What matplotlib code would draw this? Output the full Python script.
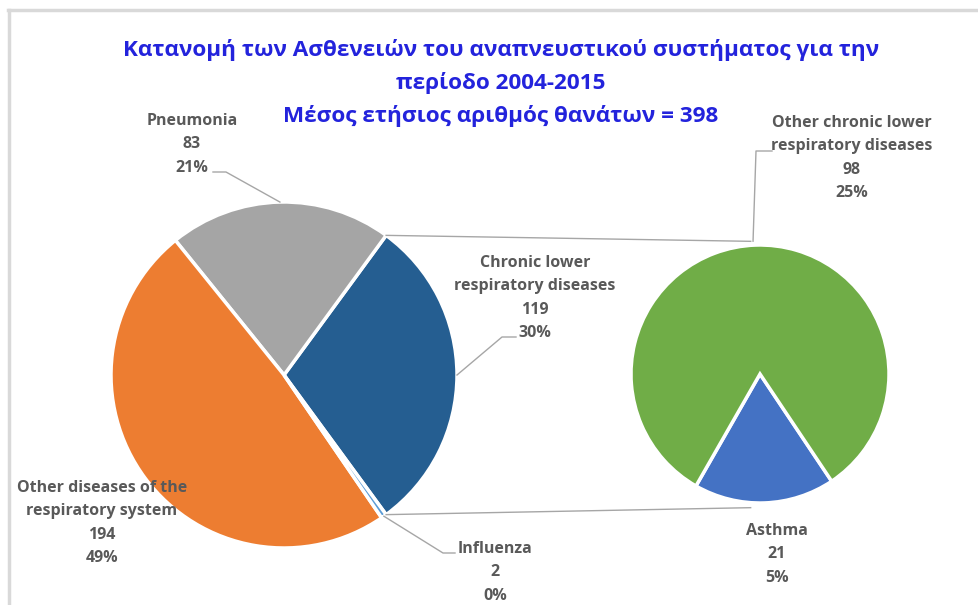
import numpy as np
import matplotlib
matplotlib.use('Agg')
import matplotlib.pyplot as plt
from matplotlib import font_manager

# ---------------- data ----------------
main_labels = ['Chronic lower\nrespiratory diseases', 'Pneumonia',
               'Other diseases of the\nrespiratory system', 'Influenza']
main_values = [119, 83, 194, 2]
main_pcts = ['30%', '21%', '49%', '0%']
main_colors = ['#255E91', '#A5A5A5', '#ED7D31', '#5B9BD5']

sub_labels = ['Asthma', 'Other chronic lower\nrespiratory diseases']
sub_values = [21, 98]
sub_pcts = ['5%', '25%']
sub_colors = ['#4472C4', '#70AD47']

title_lines = ['Κατανομή των Ασθενειών του αναπνευστικού συστήματος για την',
               'περίοδο 2004-2015',
               'Μέσος ετήσιος αριθμός θανάτων = 398']

# ---------------- fonts ----------------
def pick(fams):
    for f in fams:
        try:
            font_manager.findfont(f, fallback_to_default=False)
            return f
        except Exception:
            pass
    return 'DejaVu Sans'

FONT = pick(['Liberation Sans Narrow', 'Open Sans', 'DejaVu Sans'])
plt.rcParams['font.family'] = [FONT, 'DejaVu Sans']

W, H = 979, 605
fig = plt.figure(figsize=(W / 100, H / 100), dpi=100)
ax = fig.add_axes([0, 0, 1, 1])

def Y(y):
    return H - y

# main pie
mc = (284, 375)
mr = 173
start = -(main_values[0] / sum(main_values) * 360) / 2
wm, _ = ax.pie(main_values, colors=main_colors, startangle=start, counterclock=True,
               center=(mc[0], Y(mc[1])), radius=mr,
               wedgeprops=dict(edgecolor='white', linewidth=2.5))

# sub pie
sc = (760, 374)
sr = 129
sub_start = -90 - (sub_values[0] / sum(sub_values) * 360) / 2 + 2
ws, _ = ax.pie(sub_values, colors=sub_colors, startangle=sub_start, counterclock=True,
               center=(sc[0], Y(sc[1])), radius=sr,
               wedgeprops=dict(edgecolor='white', linewidth=2.5))

ax.set_xlim(0, W)
ax.set_ylim(0, H)
ax.set_aspect('equal')
ax.axis('off')

def on_circle(c, r, ang):
    a = np.deg2rad(ang)
    return c[0] + r * np.cos(a), Y(c[1]) + r * np.sin(a)

line_col = '#A6A6A6'
# connector lines between pies
w0 = wm[0]
p1 = on_circle(mc, mr, w0.theta2)
p2 = on_circle(sc, sr + 4, 94)
p3 = on_circle(mc, mr, w0.theta1)
p4 = on_circle(sc, sr + 5, 266)
ax.plot([p1[0], p2[0]], [p1[1], p2[1]], color=line_col, lw=1.0)
ax.plot([p3[0], p4[0]], [p3[1], p4[1]], color=line_col, lw=1.0)

# leader lines (elbow points in pixel coords)
def mid(w):
    return (w.theta1 + w.theta2) / 2

leaders = [
    (on_circle(mc, mr, mid(wm[1])), [(226, 172), (213, 172)]),
    (on_circle(mc, mr, mid(wm[0])), [(502, 337), (516, 337)]),
    (on_circle(mc, mr, mid(wm[3])), [(443, 553), (455, 553)]),
    (on_circle(sc, sr + 4, 93), [(756, 151), (772, 151)]),
]
for p, pts in leaders:
    xs = [p[0]] + [q[0] for q in pts]
    ys = [p[1]] + [Y(q[1]) for q in pts]
    ax.plot(xs, ys, color=line_col, lw=1.0)

# labels
lab_col = '#595959'
fs = 11.5
def label(x, y0, name, val, pct, dy=23.3):
    lines = name.split('\n') + [str(val), pct]
    for i, t in enumerate(lines):
        ax.text(x, Y(y0 + i * dy), t, ha='center', va='center', fontsize=fs,
                fontweight='bold', color=lab_col)

label(535, 263, main_labels[0], main_values[0], main_pcts[0])
label(192, 121, main_labels[1], main_values[1], main_pcts[1])
label(102, 488, main_labels[2], main_values[2], main_pcts[2])
label(495, 549, main_labels[3], main_values[3], main_pcts[3])
label(777, 531, sub_labels[0], sub_values[0], sub_pcts[0])
label(852, 123, sub_labels[1], sub_values[1], sub_pcts[1])

# title
title_col = '#2323DC'
for t, y in zip(title_lines, [50, 83, 116]):
    ax.text(501, Y(y), t, ha='center', va='center', fontsize=16.2,
            fontweight='bold', color=title_col)

# frame border
ax.plot([8, W], [Y(10), Y(10)], color='#D9D9D9', lw=2.5, clip_on=False)
ax.plot([9.5, 9.5], [Y(10), 0], color='#D9D9D9', lw=2.5, clip_on=False)

fig.savefig('out.png', dpi=100)
